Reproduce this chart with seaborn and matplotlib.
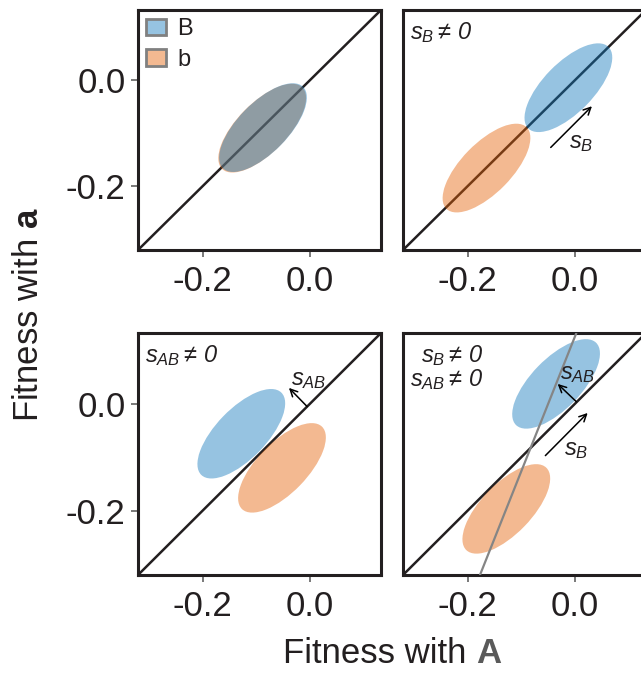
import matplotlib
matplotlib.use("Agg")
import matplotlib.pyplot as plt
from matplotlib.patches import Ellipse, Patch
from matplotlib import font_manager
import seaborn as sns

# shared axis range and ticks
axis_limits = [-0.321, 0.133]
tick_values = [-0.2, 0.0]
tick_labels = ["-0.2", "0.0"]

# one entry per panel: top-left, top-right, bottom-left, bottom-right
panel_labels = ["", r"$s_B\neq\,0$", r"$s_{AB}\neq\,0$",
                "$s_B\\neq\\,0$\n$s_{AB}\\neq\\,0$"]
B_fit_A = [-0.0875, -0.012, -0.128, -0.035]
B_fit_a = [-0.0895, -0.014, -0.056, 0.0375]
b_fit_A = [-0.0890, -0.165, -0.052, -0.128]
b_fit_a = [-0.0905, -0.166, -0.120, -0.197]

# spread of each genotype's fitness distribution
spread_major = 0.215
spread_minor = 0.094
spread_angle = 46

# selection arrows: panel index, start (A, a), end (A, a), label position (A, a)
sB_panels = [1, 3]
sB_start = [(-0.045, -0.127), (-0.055, -0.097)]
sB_end = [(0.032, -0.049), (0.024, -0.017)]
sB_label_pos = [(0.011, -0.118), (0.002, -0.086)]

sAB_panels = [2, 3]
sAB_start = [(-0.005, -0.005), (0.003, 0.004)]
sAB_end = [(-0.039, 0.030), (-0.032, 0.0375)]
sAB_label_pos = [(-0.003, 0.045), (0.006, 0.056)]

genotype_names = ["B", "b"]
genotype_colors = ["#1077bb", "#e46005"]
fill_alpha = 0.44

ink = "#231f20"

sns.set_theme(style="white")
installed = {f.name for f in font_manager.fontManager.ttflist}
base_font = "Liberation Sans" if "Liberation Sans" in installed else "DejaVu Sans"
plt.rcParams["font.family"] = [base_font, "DejaVu Sans"]
# all math annotations are set in italic sans, including digits and signs
plt.rcParams["mathtext.fontset"] = "custom"
plt.rcParams["mathtext.rm"] = base_font + ":italic"
plt.rcParams["mathtext.it"] = base_font + ":italic"
plt.rcParams["mathtext.bf"] = base_font + ":bold"
plt.rcParams["mathtext.default"] = "it"
plt.rcParams["text.color"] = ink

W, H = 641, 673
fig = plt.figure(figsize=(W / 100, H / 100), dpi=100)

col_left = [138, 403]
row_top = [(10, 250), (333, 575)]
panel_w = 243

axes = []
for r in range(2):
    for c in range(2):
        top, bot = row_top[r]
        ax = fig.add_axes([col_left[c] / W, (H - bot) / H, panel_w / W, (bot - top) / H])
        axes.append(ax)

for i, ax in enumerate(axes):
    ax.set_xlim(axis_limits)
    ax.set_ylim(axis_limits)
    # neutral line: equal fitness with A and a
    sns.lineplot(x=axis_limits, y=axis_limits, ax=ax, color=ink, lw=1.8, zorder=2)

    # b drawn first, B on top
    for gx, gy, col in [(b_fit_A, b_fit_a, genotype_colors[1]),
                        (B_fit_A, B_fit_a, genotype_colors[0])]:
        ax.add_patch(Ellipse((gx[i], gy[i]), spread_major, spread_minor,
                             angle=spread_angle, facecolor=col, alpha=fill_alpha,
                             edgecolor="none", zorder=3))

    ax.set_xticks(tick_values)
    ax.set_xticklabels(tick_labels)
    if i % 2 == 0:
        ax.set_yticks(tick_values)
        ax.set_yticklabels(tick_labels)
    else:
        ax.set_yticks([])
    ax.tick_params(axis="both", direction="out", length=5, width=1.1,
                   color="#555555", labelsize=25, labelcolor=ink)
    ax.tick_params(axis="x", pad=6, bottom=True)
    ax.tick_params(axis="y", pad=4, left=(i % 2 == 0))
    for sp in ax.spines.values():
        sp.set_linewidth(2.2)
        sp.set_color(ink)
    ax.set_xlabel("")
    ax.set_ylabel("")

    if panel_labels[i]:
        ax.text(0.028, 0.958, panel_labels[i], transform=ax.transAxes, ha="left",
                va="top", fontsize=17, multialignment="right", color=ink,
                linespacing=0.95)

# line through the B and b centres in the last panel
ax4 = axes[3]
ax4.axline((b_fit_A[3], b_fit_a[3]), (B_fit_A[3], B_fit_a[3]), color="#858585",
           lw=1.6, zorder=4)

arrow_style = dict(arrowstyle="->", lw=1.1, color="black", shrinkA=0, shrinkB=0,
                   mutation_scale=13)
for p, s, e, lp in zip(sB_panels, sB_start, sB_end, sB_label_pos):
    axes[p].annotate("", xy=e, xytext=s, arrowprops=arrow_style, zorder=5)
    axes[p].text(lp[0], lp[1], r"$s_B$", fontsize=17, ha="center", va="center",
                 color=ink, zorder=5)
for p, s, e, lp in zip(sAB_panels, sAB_start, sAB_end, sAB_label_pos):
    axes[p].annotate("", xy=e, xytext=s, arrowprops=arrow_style, zorder=5)
    axes[p].text(lp[0], lp[1], r"$s_{AB}$", fontsize=17, ha="center", va="center",
                 color=ink, zorder=5)

# genotype legend
handles = [Patch(facecolor=matplotlib.colors.to_rgba(c, fill_alpha),
                 edgecolor="#808080", linewidth=2, label=n)
           for n, c in zip(genotype_names, genotype_colors)]
axes[0].legend(handles=handles, loc="upper left", bbox_to_anchor=(0.0, 1.0),
               frameon=False, fontsize=17, handlelength=0.85, handleheight=0.72,
               handletextpad=0.45, labelspacing=0.35, borderaxespad=0,
               borderpad=0.35)

# axis titles
fig.text(29 / W, 1 - 315 / H, r"Fitness with $\mathbf{a}$", rotation=90,
         ha="center", va="center", fontsize=25, color=ink)

t1 = fig.text(0, 0, "Fitness with", fontsize=25, color=ink, va="baseline")
t2 = fig.text(0, 0, "A", fontsize=25, color="#5a5a5a", fontweight="bold",
              va="baseline")
fig.canvas.draw()
rend = fig.canvas.get_renderer()
w1 = t1.get_window_extent(rend).width
w2 = t2.get_window_extent(rend).width
gap = 0.278 * 25 * 100 / 72
left = 392 - (w1 + gap + w2) / 2
base = (H - 663) / H
t1.set_position((left / W, base))
t2.set_position(((left + w1 + gap) / W, base))

fig.savefig("out.png", dpi=100)
